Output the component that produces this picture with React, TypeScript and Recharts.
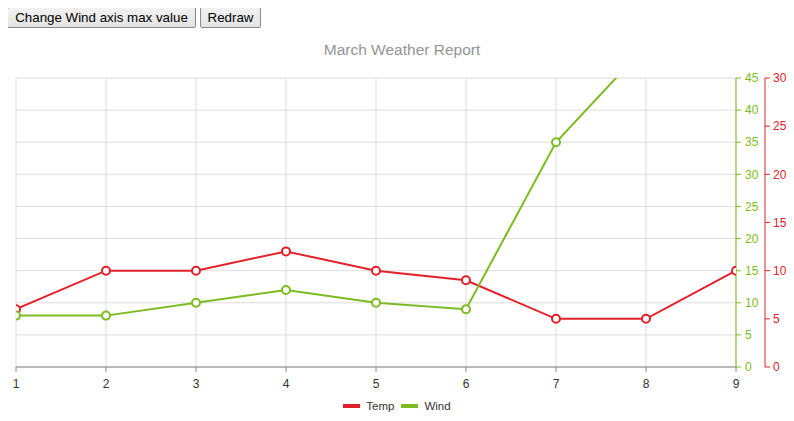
import React from 'react';
import { LineChart, Line, XAxis, YAxis, CartesianGrid, Legend } from 'recharts';

const categories = [1, 2, 3, 4, 5, 6, 7, 8, 9];
const tempValues = [6, 10, 10, 12, 10, 9, 5, 5, 10];
const windValues = [8, 8, 10, 12, 10, 9, 35, 50, 50];
const windTicks = [0, 5, 10, 15, 20, 25, 30, 35, 40, 45];
const tempTicks = [0, 5, 10, 15, 20, 25, 30];
const seriesNames = ['Temp', 'Wind'];

const RED = '#e2212b';
const GREEN = '#7cbb22';
const FONT = 'Arial, "Liberation Sans", sans-serif';
const WIND_AXIS = 'a_wind';
const TEMP_AXIS = 'b_temp';

const data = categories.map((x, i) => ({ x, Temp: tempValues[i], Wind: windValues[i] }));

const btnStyle: React.CSSProperties = {
  position: 'absolute',
  top: 7,
  height: 21,
  padding: 0,
  margin: 0,
  fontFamily: FONT,
  fontSize: 13.33,
  color: '#000',
  background: 'linear-gradient(#f2f2f2, #e3e3e3)',
  border: '1px solid #8a8a8a',
  borderRadius: 2,
  boxSizing: 'border-box',
};

const LegendContent = () => (
  <div style={{ display: 'flex', justifyContent: 'center', alignItems: 'center', height: 16, fontFamily: FONT, fontSize: 11.5, color: '#333' }}>
    {seriesNames.map((n, i) => (
      <div key={n} style={{ display: 'flex', alignItems: 'center', marginRight: i === 0 ? 7 : 0 }}>
        <div style={{ width: 17, height: 4, background: i === 0 ? RED : GREEN, marginRight: 6 }} />
        <span>{n}</span>
      </div>
    ))}
  </div>
);

export default function App() {
  return (
    <div style={{ position: 'relative', width: 778, height: 405 }}>
      <div style={{ position: 'absolute', left: -8, top: -8, width: 794, height: 421 }}>
        <button style={{ ...btnStyle, left: 7, width: 189 }}>Change Wind axis max value</button>
        <button style={{ ...btnStyle, left: 200, width: 61 }}>Redraw</button>
        <div style={{ position: 'absolute', top: 40, left: 5, width: 794, textAlign: 'center', fontFamily: FONT, fontSize: 15.5, lineHeight: '20px', color: '#959595' }}>
          March Weather Report
        </div>
        <div style={{ position: 'absolute', left: 0, top: 0 }}>
          <LineChart width={794} height={421} data={data} margin={{ top: 78, right: 0, left: 16, bottom: 13 }}>
            <CartesianGrid yAxisId={WIND_AXIS} stroke="#dddddd" strokeWidth={1} />
            <XAxis
              dataKey="x"
              type="number"
              domain={[1, 9]}
              ticks={categories}
              allowDataOverflow
              height={25}
              stroke="#888"
              tickSize={5}
              tickMargin={7}
              tick={{ fill: '#333', fontSize: 12, fontFamily: FONT }}
              interval={0}
            />
            <YAxis
              yAxisId={WIND_AXIS}
              orientation="right"
              domain={[0, 45]}
              ticks={windTicks}
              allowDataOverflow
              width={29}
              stroke={GREEN}
              tickSize={5}
              tickMargin={4}
              tick={{ fill: GREEN, fontSize: 12, fontFamily: FONT, textAnchor: 'start' }}
              interval={0}
            />
            <YAxis
              yAxisId={TEMP_AXIS}
              orientation="right"
              domain={[0, 30]}
              ticks={tempTicks}
              width={29}
              stroke={RED}
              tickSize={5}
              tickMargin={3}
              tick={{ fill: RED, fontSize: 12, fontFamily: FONT, textAnchor: 'start' }}
              interval={0}
            />
            <Legend
              content={<LegendContent />}
              verticalAlign="bottom"
              height={16}
              wrapperStyle={{ top: 398, bottom: 'auto', left: 0, width: 794 }}
            />
            <Line
              yAxisId={TEMP_AXIS}
              dataKey="Temp"
              stroke={RED}
              strokeWidth={2}
              dot={{ r: 4, fill: '#fff', stroke: RED, strokeWidth: 2 }}
              isAnimationActive={false}
            />
            <Line
              yAxisId={WIND_AXIS}
              dataKey="Wind"
              stroke={GREEN}
              strokeWidth={2}
              dot={{ r: 4, fill: '#fff', stroke: GREEN, strokeWidth: 2 }}
              isAnimationActive={false}
            />
          </LineChart>
        </div>
      </div>
    </div>
  );
}
